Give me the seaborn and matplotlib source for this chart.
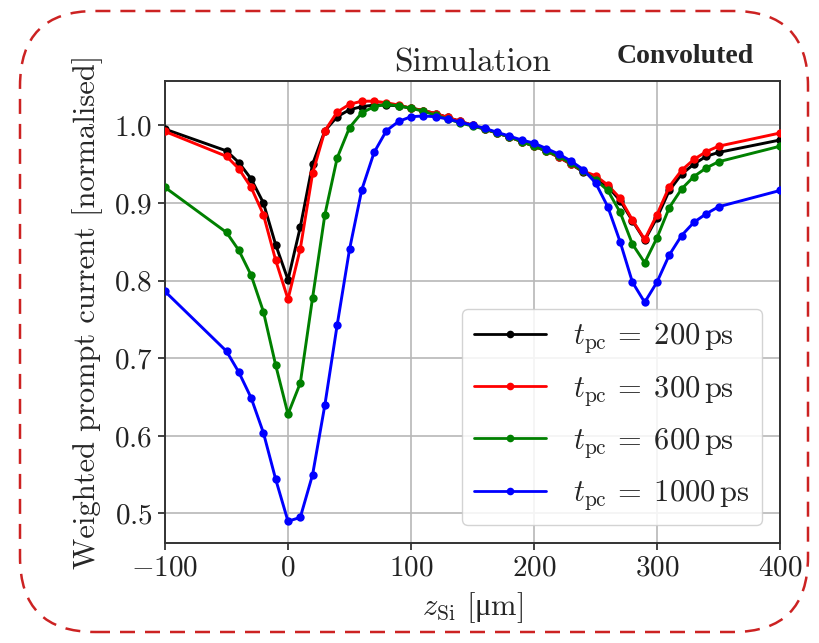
import numpy as np
import pandas as pd
import seaborn as sns
import matplotlib
matplotlib.use("Agg")
import matplotlib.pyplot as plt
from matplotlib.lines import Line2D
from matplotlib.patches import FancyBboxPatch
from matplotlib.transforms import IdentityTransform

# ---------------- data ----------------
z_si = [-100, -50, -40, -30, -20, -10, 0, 10, 20, 30, 40, 50, 60, 70, 80, 90,
        100, 110, 120, 130, 140, 150, 160, 170, 180, 190, 200, 210, 220, 230,
        240, 250, 260, 270, 280, 290, 300, 310, 320, 330, 340, 350, 400]

current_200ps = [0.995, 0.967, 0.952, 0.931, 0.900, 0.846, 0.801, 0.869, 0.950, 0.993,
                 1.011, 1.020, 1.024, 1.026, 1.026, 1.025, 1.022, 1.019, 1.015, 1.010,
                 1.005, 1.000, 0.995, 0.990, 0.985, 0.979, 0.973, 0.967, 0.959, 0.950,
                 0.940, 0.932, 0.921, 0.903, 0.877, 0.852, 0.881, 0.916, 0.937, 0.950,
                 0.960, 0.965, 0.981]

current_300ps = [0.992, 0.960, 0.944, 0.920, 0.885, 0.826, 0.776, 0.841, 0.938, 0.993,
                 1.017, 1.027, 1.031, 1.031, 1.029, 1.026, 1.022, 1.019, 1.015, 1.010,
                 1.005, 1.000, 0.995, 0.990, 0.985, 0.979, 0.973, 0.967, 0.959, 0.950,
                 0.941, 0.935, 0.923, 0.906, 0.878, 0.853, 0.885, 0.921, 0.942, 0.956,
                 0.966, 0.973, 0.990]

current_600ps = [0.920, 0.862, 0.839, 0.807, 0.760, 0.691, 0.628, 0.668, 0.778, 0.885,
                 0.958, 0.997, 1.016, 1.024, 1.027, 1.025, 1.022, 1.018, 1.013, 1.008,
                 1.003, 0.999, 0.995, 0.990, 0.985, 0.979, 0.973, 0.967, 0.960, 0.951,
                 0.941, 0.930, 0.916, 0.888, 0.847, 0.823, 0.855, 0.894, 0.918, 0.934,
                 0.945, 0.953, 0.973]

current_1000ps = [0.786, 0.709, 0.682, 0.649, 0.604, 0.544, 0.490, 0.495, 0.550, 0.640,
                  0.743, 0.840, 0.917, 0.965, 0.993, 1.005, 1.011, 1.012, 1.011, 1.008,
                  1.004, 1.000, 0.996, 0.991, 0.986, 0.981, 0.977, 0.970, 0.963, 0.954,
                  0.943, 0.926, 0.895, 0.850, 0.798, 0.772, 0.798, 0.833, 0.858, 0.875,
                  0.886, 0.895, 0.916]

series_labels = [r"$t_{\rm pc}\,{=}\;200\,{\rm ps}$",
                 r"$t_{\rm pc}\,{=}\;300\,{\rm ps}$",
                 r"$t_{\rm pc}\,{=}\;600\,{\rm ps}$",
                 r"$t_{\rm pc}\,{=}\;1000\,{\rm ps}$"]
series_colors = ["#000000", "#ff0000", "#008000", "#0000ff"]

x_ticks = [-100, 0, 100, 200, 300, 400]
y_ticks = [0.5, 0.6, 0.7, 0.8, 0.9, 1.0]

# ---------------- style ----------------
sns.set_theme(style="whitegrid")
plt.rcParams.update({
    "font.family": ["serif"],
    "font.serif": ["cmr10", "DejaVu Serif"],
    "mathtext.fontset": "custom",
    "mathtext.rm": "cmr10",
    "mathtext.it": "cmmi10",
    "mathtext.bf": "cmb10",
    "mathtext.sf": "Liberation Serif",
    "mathtext.fallback": "cm",
    "axes.formatter.use_mathtext": True,
    "axes.unicode_minus": True,
    "axes.edgecolor": "#333333",
    "axes.linewidth": 1.4,
    "grid.color": "#b8b8b8",
    "grid.linewidth": 1.2,
    "xtick.bottom": True,
    "ytick.left": True,
    "xtick.major.size": 5,
    "ytick.major.size": 5,
    "xtick.major.width": 1.2,
    "ytick.major.width": 1.2,
    "xtick.color": "#222222",
    "ytick.color": "#222222",
})

df = pd.DataFrame({
    "z": np.tile(z_si, 4),
    "I": np.concatenate([current_200ps, current_300ps, current_600ps, current_1000ps]),
    "series": np.repeat(series_labels, len(z_si)),
})

fig = plt.figure(figsize=(8.19, 6.43), dpi=100)
ax = fig.add_axes([165 / 819, 1 - 543 / 643, 615 / 819, 462 / 643])

sns.lineplot(data=df, x="z", y="I", hue="series", hue_order=series_labels,
             palette=series_colors, marker="o", markersize=6, markeredgewidth=0,
             linewidth=2.1, sort=False, legend=False, ax=ax, zorder=3)

ax.set_xlim(-100, 400)
ax.set_ylim(0.462, 1.057)
ax.set_xticks(x_ticks)
ax.set_yticks(y_ticks)
ax.tick_params(axis="both", labelsize=21, pad=4)
ax.grid(True, color="#b8b8b8", linewidth=1.2)
for s in ax.spines.values():
    s.set_color("#333333")

ax.set_xlabel(r"$z_{\rm Si}$ [$\mathsf{\mu}$m]", fontsize=22, labelpad=6)
ax.set_ylabel("Weighted prompt current [normalised]", fontsize=22, labelpad=8)
ax.set_title("Simulation", fontsize=24, pad=7)

fig.text(617 / 819, 1 - 63 / 643, "Convoluted", fontsize=20, fontweight="bold",
         family=["Liberation Serif", "DejaVu Serif"], ha="left", va="baseline")

handles = [Line2D([0], [0], color=c, lw=2.0, marker="o", markersize=5.5, markeredgewidth=0)
           for c in series_colors]
leg = ax.legend(handles, series_labels, loc="lower right", fontsize=22, frameon=True,
                fancybox=True, framealpha=0.85, edgecolor="#cccccc",
                handlelength=2.35, labelspacing=0.6, borderaxespad=0.6,
                handletextpad=0.9, borderpad=0.4)
leg.get_frame().set_linewidth(1.0)

border = FancyBboxPatch((20, 11), 788, 621, boxstyle="round,pad=0,rounding_size=75",
                        transform=IdentityTransform(), fill=False, edgecolor="#cc2222",
                        linewidth=1.8, linestyle=(0, (6, 4)), figure=fig)
fig.patches.append(border)

fig.savefig("out.png", dpi=100)
